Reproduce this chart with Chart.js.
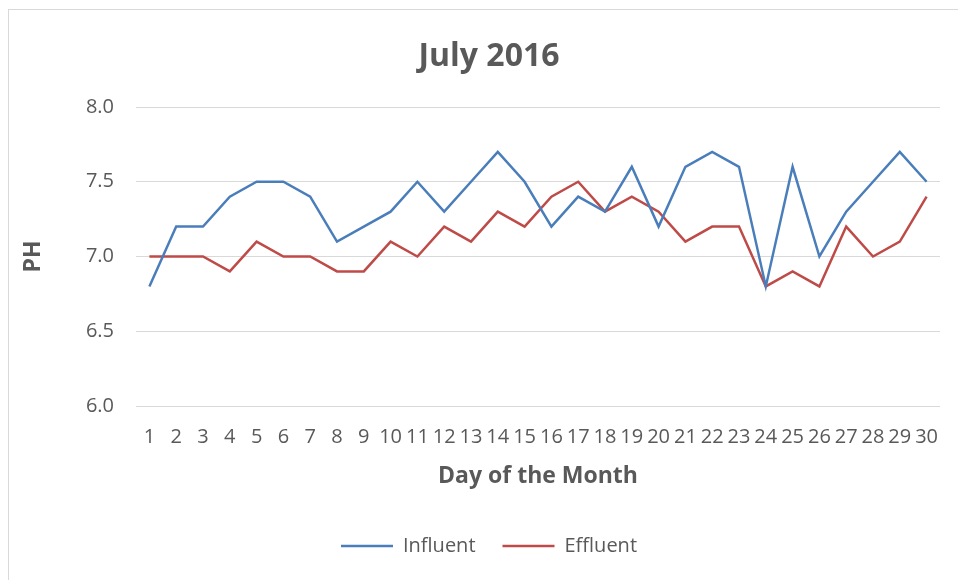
<!DOCTYPE html>
<html>
<head>
<meta charset="utf-8">
<script src="https://cdn.jsdelivr.net/npm/chart.js@4/dist/chart.umd.min.js"></script>
<style>
  html, body { margin: 0; padding: 0; background: #ffffff; overflow: hidden; }
  #wrap { width: 958px; height: 580px; position: relative; overflow: hidden; }
</style>
</head>
<body>
<div id="wrap"><canvas id="c" width="958" height="580"></canvas></div>
<script>
const days = ['1','2','3','4','5','6','7','8','9','10','11','12','13','14','15','16','17','18','19','20','21','22','23','24','25','26','27','28','29','30'];
const influent = [6.8,7.2,7.2,7.4,7.5,7.5,7.4,7.1,7.2,7.3,7.5,7.3,7.5,7.7,7.5,7.2,7.4,7.3,7.6,7.2,7.6,7.7,7.6,6.8,7.6,7.0,7.3,7.5,7.7,7.5];
const effluent = [7.0,7.0,7.0,6.9,7.1,7.0,7.0,6.9,6.9,7.1,7.0,7.2,7.1,7.3,7.2,7.4,7.5,7.3,7.4,7.3,7.1,7.2,7.2,6.8,6.9,6.8,7.2,7.0,7.1,7.4];
const yTicks = [6.0, 6.5, 7.0, 7.5, 8.0];
const chartTitle = 'July 2016';
const xTitle = 'Day of the Month';
const yTitle = 'PH';

const FONT = "'Open Sans', 'DejaVu Sans', sans-serif";
const TXT = '#595959';

const borderPlugin = {
  id: 'outerBorder',
  beforeDraw(chart) {
    const ctx = chart.ctx;
    ctx.save();
    ctx.strokeStyle = '#d9d9d9';
    ctx.lineWidth = 1;
    ctx.strokeRect(8.5, 9.5, 1000, 1000);
    ctx.restore();
  }
};

new Chart(document.getElementById('c'), {
  type: 'line',
  data: {
    labels: days,
    datasets: [
      { label: 'Influent', data: influent, borderColor: '#4a7ebb', backgroundColor: '#4a7ebb',
        borderWidth: 2.5, pointRadius: 0, tension: 0, fill: false },
      { label: 'Effluent', data: effluent, borderColor: '#be4b48', backgroundColor: '#be4b48',
        borderWidth: 2.5, pointRadius: 0, tension: 0, fill: false }
    ]
  },
  options: {
    responsive: false,
    animation: false,
    devicePixelRatio: 1,
    layout: { padding: { left: 38, right: 18, top: 37.8, bottom: 14 } },
    plugins: {
      title: {
        display: true, text: chartTitle, color: TXT,
        font: { family: FONT, size: 32, weight: 'bold', lineHeight: 1.2 },
        padding: { top: 0, bottom: 30.8 }
      },
      legend: {
        position: 'bottom',
        labels: {
          usePointStyle: true, pointStyle: 'line', pointStyleWidth: 52,
          color: TXT, padding: 27,
          font: { family: FONT, size: 20 }
        }
      },
      tooltip: { enabled: false }
    },
    scales: {
      x: {
        offset: true,
        grid: { display: false, drawTicks: false },
        border: { display: false },
        ticks: { color: TXT, padding: 19, autoSkip: false, maxRotation: 0,
                 font: { family: FONT, size: 20 } },
        title: { display: true, text: xTitle, color: TXT,
                 font: { family: FONT, size: 23, weight: 'bold', lineHeight: 1.2 },
                 padding: { top: 0, bottom: 19.2 } },
        afterFit(scale) { scale.height = 103; }
      },
      y: {
        min: 6, max: 8,
        afterBuildTicks(scale) { scale.ticks = yTicks.map(v => ({ value: v })); },
        grid: { color: '#d9d9d9', lineWidth: 1, drawTicks: false },
        border: { display: false },
        ticks: { color: TXT, padding: 22, font: { family: FONT, size: 20 },
                 callback: v => Number(v).toFixed(1) },
        title: { display: true, text: yTitle, color: TXT,
                 font: { family: FONT, size: 23, weight: 'bold', lineHeight: 1.2 },
                 padding: { top: -18.8, bottom: 0 } },
        afterFit(scale) { scale.width = 98; }
      }
    }
  },
  plugins: [borderPlugin]
});
</script>
</body>
</html>
